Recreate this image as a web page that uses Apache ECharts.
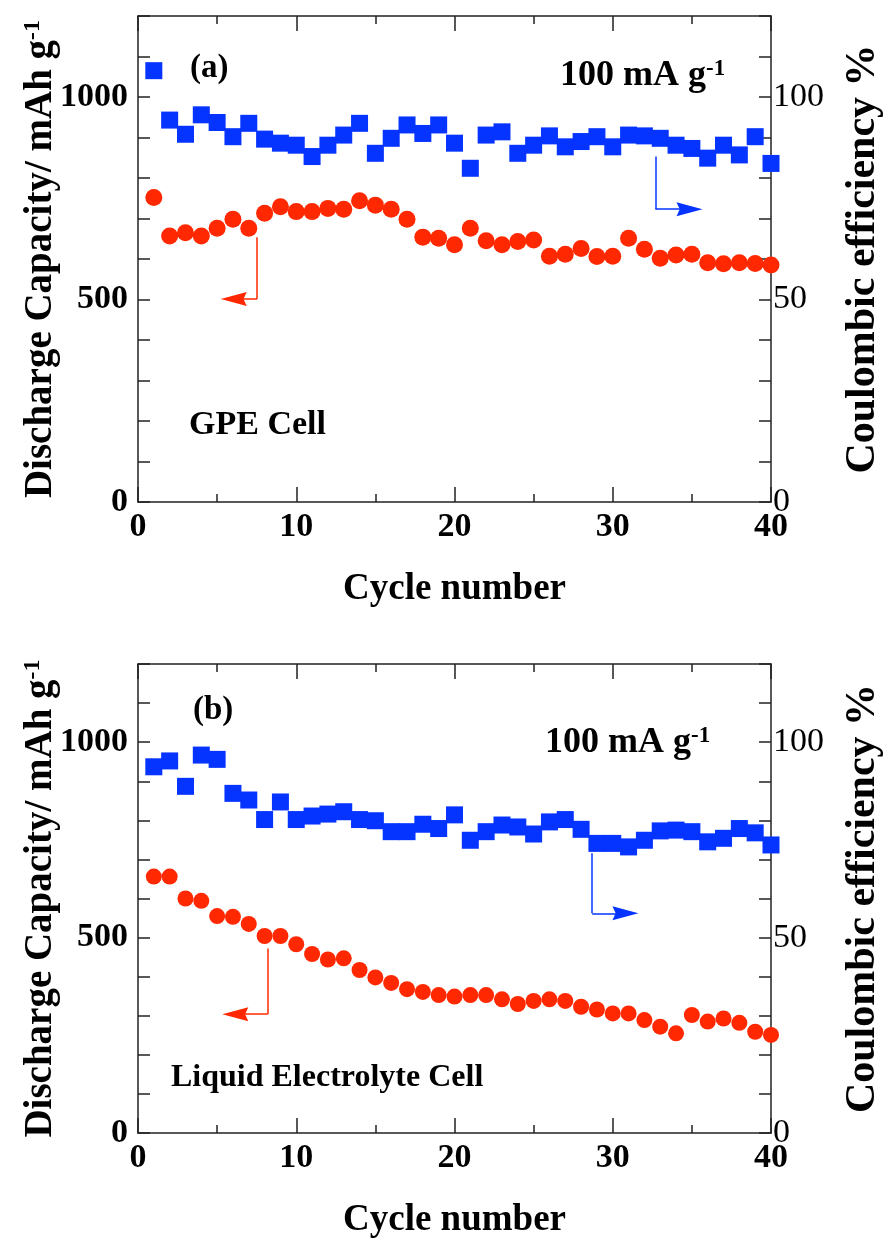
<!DOCTYPE html>
<html><head><meta charset="utf-8">
<script src="https://cdn.jsdelivr.net/npm/echarts@6/dist/echarts.min.js"></script>
<style>html,body{margin:0;padding:0;background:#fff}#c{width:885px;height:1239px}</style>
</head><body><div id="c"></div>
<script>
// ---- data ----
const cycles = Array.from({length: 40}, (_, i) => i + 1);
const capA = [752,657,665,657,676,698,676,713,729,717,717,725,723,744,733,723,698,654,651,635,676,645,635,643,647,607,612,626,606,607,651,624,602,610,612,591,588,591,589,585];
const ceA = [106.5,94.3,90.8,95.6,93.7,90.2,93.5,89.6,88.6,88.1,85.3,88.1,90.6,93.5,86.1,89.8,93.1,91.0,93.1,88.6,82.4,90.6,91.4,86.1,88.1,90.4,87.7,89.0,90.2,87.7,90.6,90.4,89.8,88.1,87.3,84.9,88.1,85.7,90.2,83.6];
const capB = [656,656,600,594,555,553,535,504,504,483,458,444,447,417,398,384,368,361,353,349,353,353,342,330,338,342,338,323,316,306,306,289,272,255,302,285,293,282,259,251];
const ceB = [93.7,95.2,88.7,96.7,95.6,86.9,85.2,80.2,84.7,80.2,81.1,81.6,82.2,80.2,79.9,77.1,77.1,79.0,77.9,81.4,74.9,77.1,78.8,78.3,76.5,79.6,80.2,77.7,74.1,74.1,73.2,74.9,77.3,77.5,77.1,74.5,75.4,77.9,76.8,73.7];
const capTickLabels = [0, 500, 1000];
const ceTickLabels = [0, 50, 100];
const xTickLabels = [0, 10, 20, 30, 40];
// annotation arrows (data coords): [x, yTop, yBottom, xEnd]
const arrowCapA = [7.52, 654, 501, 6.05];
const arrowCeA = [32.7, 85.3, 72.3, 34.85];
const arrowCapB = [8.2, 472, 304, 6.15];
const arrowCeB = [28.7, 71.6, 56.2, 30.8];

const FONT = '"Liberation Serif", "Times New Roman", serif';
const RED = '#FF2800';
const BLUE = '#0533FF';
const AX = '#222';
const ARROW_HEAD = 'path://M5,0 L10,24 L5,21 L0,24 Z';

const pairs = (ys) => cycles.map((c, i) => [c, ys[i]]);

function xAxes(grid, gap) {
  const base = {
    type: 'value', gridIndex: grid, min: 0, max: 40, interval: 10,
    axisLine: {show: true, onZero: false, lineStyle: {color: AX, width: 1.5}},
    axisTick: {show: true, inside: true, length: 15, lineStyle: {color: AX, width: 1.5}},
    minorTick: {show: true, splitNumber: 2, length: 8, lineStyle: {color: AX, width: 1.5}},
    splitLine: {show: false}, minorSplitLine: {show: false}
  };
  return [
    Object.assign({}, base, {
      position: 'bottom',
      axisLabel: {fontFamily: FONT, fontWeight: 'bold', fontSize: 34, color: '#000', margin: 8,
        formatter: v => xTickLabels.includes(v) ? String(v) : ''},
      name: 'Cycle number', nameLocation: 'middle', nameGap: gap, nameMoveOverlap: false,
      nameTextStyle: {fontFamily: FONT, fontWeight: 'bold', fontSize: 37, color: '#000'}
    }),
    Object.assign({}, base, {position: 'top', axisLabel: {show: false}})
  ];
}

function yAxes(grid) {
  const tick = {show: true, inside: true, length: 12, lineStyle: {color: AX, width: 1.5}};
  return [
    {
      type: 'value', gridIndex: grid, position: 'left', min: 0, max: 1200, interval: 100,
      axisLine: {show: true, onZero: false, lineStyle: {color: AX, width: 1.5}},
      axisTick: tick, splitLine: {show: false},
      axisLabel: {fontFamily: FONT, fontWeight: 'bold', fontSize: 34, color: '#000', margin: 10,
        formatter: v => capTickLabels.includes(v) ? String(v) : ''},
      name: 'Discharge Capacity/ mAh g{sup|-1}', nameLocation: 'middle', nameRotate: 90, nameGap: 78,
      nameMoveOverlap: false,
      nameTextStyle: {fontFamily: FONT, fontWeight: 'bold', fontSize: 39, color: '#000',
        rich: {sup: {fontFamily: FONT, fontWeight: 'bold', fontSize: 24, color: '#000', verticalAlign: 'top'}}}
    },
    {
      type: 'value', gridIndex: grid, position: 'right', min: 0, max: 120, interval: 10,
      axisLine: {show: true, onZero: false, lineStyle: {color: AX, width: 1.5}},
      axisTick: tick, splitLine: {show: false},
      axisLabel: {fontFamily: FONT, fontWeight: 'normal', fontSize: 34, color: '#000', margin: 2,
        formatter: v => ceTickLabels.includes(v) ? String(v) : ''},
      name: 'Coulombic efficiency %', nameLocation: 'middle', nameRotate: 90, nameGap: 71,
      nameMoveOverlap: false,
      nameTextStyle: {fontFamily: FONT, fontWeight: 'bold', fontSize: 42, color: '#000'}
    }
  ];
}

function arrowMark(a, color) {
  const [x, y1, y2, xe] = a;
  return {
    silent: true, animation: false, label: {show: false},
    symbol: ['none', ARROW_HEAD], symbolSize: [14, 26],
    lineStyle: {color: color, width: 1.5, type: 'solid'},
    itemStyle: {color: color},
    emphasis: {disabled: true},
    data: [
      [{coord: [x, y1], symbol: 'none'}, {coord: [x, y2], symbol: 'none'}],
      [{coord: [x, y2], symbol: 'none'}, {coord: [xe, y2]}]
    ]
  };
}

function scatter(xi, yi, ys, shape, color, size, arrow) {
  return {
    type: 'scatter', xAxisIndex: xi, yAxisIndex: yi, data: pairs(ys),
    symbol: shape, symbolSize: size, itemStyle: {color: color, opacity: 1},
    markLine: arrowMark(arrow, color), silent: true
  };
}

const chart = echarts.init(document.getElementById('c'), null, {renderer: 'canvas'});
chart.setOption({
  animation: false,
  backgroundColor: '#fff',
  grid: [
    {left: 138, right: 114, top: 16, height: 486, outerBoundsMode: 'none', containLabel: false},
    {left: 138, right: 114, top: 664, height: 469, outerBoundsMode: 'none', containLabel: false}
  ],
  xAxis: [...xAxes(0, 69), ...xAxes(1, 69)],
  yAxis: [...yAxes(0), ...yAxes(1)],
  series: [
    scatter(0, 0, capA, 'circle', RED, 17, arrowCapA),
    scatter(0, 1, ceA, 'rect', BLUE, 17, arrowCeA),
    scatter(2, 2, capB, 'circle', RED, 16, arrowCapB),
    scatter(2, 3, ceB, 'rect', BLUE, 17, arrowCeB)
  ],
  graphic: [
    {type: 'text', left: 190, top: 52, style: {text: '(a)', font: 'bold 33px ' + FONT, fill: '#000'}},
    {type: 'text', left: 560, top: 58, style: {text: '100 mA g{sup|-1}', font: 'bold 36px ' + FONT, fill: '#000',
      rich: {sup: {font: 'bold 23px ' + FONT, fill: '#000', verticalAlign: 'top'}}}},
    {type: 'text', left: 189, top: 408, style: {text: 'GPE Cell', font: 'bold 34px ' + FONT, fill: '#000'}},
    {type: 'text', left: 193, top: 694, style: {text: '(b)', font: 'bold 33px ' + FONT, fill: '#000'}},
    {type: 'text', left: 545, top: 725, style: {text: '100 mA g{sup|-1}', font: 'bold 36px ' + FONT, fill: '#000',
      rich: {sup: {font: 'bold 23px ' + FONT, fill: '#000', verticalAlign: 'top'}}}},
    {type: 'text', left: 171, top: 1062, style: {text: 'Liquid Electrolyte Cell', font: 'bold 32px ' + FONT, fill: '#000'}}
  ]
});
</script></body></html>
